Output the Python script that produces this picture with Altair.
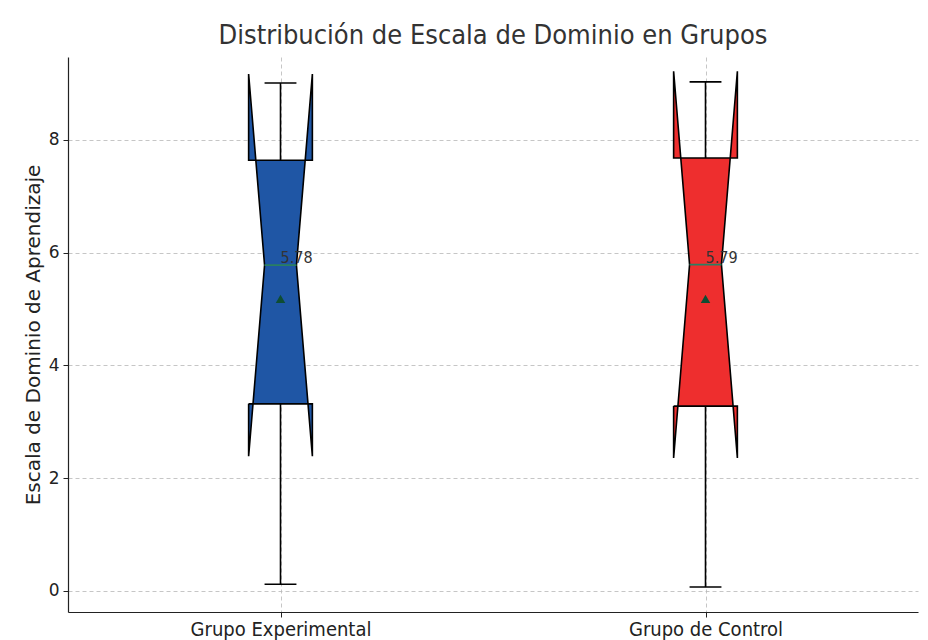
import altair as alt
import pandas as pd

# ---- data ----
groups = ["Grupo Experimental", "Grupo de Control"]
positions = [1, 2]
q1 = [3.32, 3.28]
median = [5.78, 5.79]
q3 = [7.64, 7.68]
whisk_lo = [0.12, 0.07]
whisk_hi = [9.01, 9.03]
notch_lo = [2.39, 2.36]
notch_hi = [9.17, 9.22]
means = [5.18, 5.18]
fills = ["#1f56a5", "#ee2e2e"]

HW = 0.075      # half box width (x units)
WAIST = 0.0375  # half width at the notch waist
CAP = 0.0375    # half cap width

def xl(i, y):
    c = positions[i]
    if y >= median[i]:
        return c - HW + (HW - WAIST) * (notch_hi[i] - y) / (notch_hi[i] - median[i])
    return c - HW + (HW - WAIST) * (y - notch_lo[i]) / (median[i] - notch_lo[i])

def xr(i, y):
    return 2 * positions[i] - xl(i, y)

# filled pieces of the notched box
area_rows = []
for i, g in enumerate(groups):
    c = positions[i]
    pieces = {
        "mid": [(q1[i], xl(i, q1[i]), xr(i, q1[i])), (median[i], c - WAIST, c + WAIST), (q3[i], xl(i, q3[i]), xr(i, q3[i]))],
        "tl": [(q3[i], c - HW, xl(i, q3[i])), (notch_hi[i], c - HW, c - HW)],
        "tr": [(q3[i], xr(i, q3[i]), c + HW), (notch_hi[i], c + HW, c + HW)],
        "bl": [(notch_lo[i], c - HW, c - HW), (q1[i], c - HW, xl(i, q1[i]))],
        "br": [(notch_lo[i], c + HW, c + HW), (q1[i], xr(i, q1[i]), c + HW)],
    }
    for k, pts in pieces.items():
        for (y, a, b) in pts:
            area_rows.append({"piece": f"{g}-{k}", "y": y, "x": a, "x2": b, "color": fills[i]})
areas = pd.DataFrame(area_rows)

# outline polygon
outline_rows = []
for i, g in enumerate(groups):
    c = positions[i]
    pts = [(c - HW, q1[i]), (c - HW, notch_lo[i]), (c - WAIST, median[i]), (c - HW, notch_hi[i]),
           (c - HW, q3[i]), (c + HW, q3[i]), (c + HW, notch_hi[i]), (c + WAIST, median[i]),
           (c + HW, notch_lo[i]), (c + HW, q1[i]), (c - HW, q1[i])]
    for k, (x, y) in enumerate(pts):
        outline_rows.append({"g": g, "o": k, "x": x, "y": y})
outline = pd.DataFrame(outline_rows)

whiskers = pd.DataFrame({
    "x": positions + positions,
    "y": q3 + q1,
    "y2": whisk_hi + whisk_lo,
})
caps = pd.DataFrame({
    "x": [p - CAP for p in positions] * 2,
    "x2": [p + CAP for p in positions] * 2,
    "y": whisk_hi + whisk_lo,
})
meds = pd.DataFrame({
    "x": [p - WAIST for p in positions],
    "x2": [p + WAIST for p in positions],
    "xc": positions,
    "y": median,
    "label": [f"{m:.2f}" for m in median],
})
mean_df = pd.DataFrame({"x": positions, "y": means})

xscale = alt.Scale(domain=[0.5, 2.5], nice=False, zero=False)
yscale = alt.Scale(domain=[-0.3725, 9.472], nice=False, zero=False)

cond = "DejaVu Sans Condensed, Liberation Sans Narrow, sans-serif"
label_expr = "datum.value == 1 ? 'Grupo Experimental' : (datum.value == 2 ? 'Grupo de Control' : '')"

xaxis = alt.Axis(values=[1, 2], labelExpr=label_expr, title=None, grid=True,
                 gridDash=[4, 3], gridColor="#b8b8b8", gridWidth=0.8,
                 labelFont=cond, labelFontSize=20, labelColor="#222", labelPadding=2,
                 labelLimit=0,
                 domainColor="#222", domainWidth=1.2, tickColor="#222", tickSize=5)
yaxis = alt.Axis(values=[0, 2, 4, 6, 8], format="d", title="Escala de Dominio de Aprendizaje",
                 grid=True, gridDash=[4, 3], gridColor="#b8b8b8", gridWidth=0.8,
                 labelFont="DejaVu Sans", labelFontSize=17, labelColor="#222", labelPadding=4,
                 titleFont="DejaVu Sans", titleFontSize=20, titleFontWeight="normal",
                 titleColor="#222", titlePadding=5,
                 domainColor="#222", domainWidth=1.2, tickColor="#222", tickSize=5)

area_layer = alt.Chart(areas).mark_area(orient="horizontal", opacity=1).encode(
    y=alt.Y("y:Q", scale=yscale, axis=yaxis, stack=None),
    x=alt.X("x:Q", scale=xscale, axis=xaxis, stack=None),
    x2="x2:Q",
    detail="piece:N",
    color=alt.Color("color:N", scale=None),
)

outline_layer = alt.Chart(outline).mark_line(color="black", strokeWidth=1.6, strokeJoin="miter").encode(
    x=alt.X("x:Q", scale=xscale),
    y=alt.Y("y:Q", scale=yscale),
    detail="g:N",
    order="o:Q",
)

whisk_layer = alt.Chart(whiskers).mark_rule(color="black", strokeWidth=1.6).encode(
    x=alt.X("x:Q", scale=xscale), y=alt.Y("y:Q", scale=yscale), y2="y2:Q"
)
cap_layer = alt.Chart(caps).mark_rule(color="black", strokeWidth=1.6).encode(
    x=alt.X("x:Q", scale=xscale), x2="x2:Q", y=alt.Y("y:Q", scale=yscale)
)
med_layer = alt.Chart(meds).mark_rule(color="#2a7f62", strokeWidth=1.8).encode(
    x=alt.X("x:Q", scale=xscale), x2="x2:Q", y=alt.Y("y:Q", scale=yscale)
)
mean_layer = alt.Chart(mean_df).mark_point(shape="triangle-up", filled=True, size=90,
                                           color="#0e4d33", opacity=1).encode(
    x=alt.X("x:Q", scale=xscale), y=alt.Y("y:Q", scale=yscale)
)
text_layer = alt.Chart(meds).mark_text(align="left", baseline="alphabetic", dy=-2,
                                       font=cond, fontSize=16, color="#333").encode(
    x=alt.X("xc:Q", scale=xscale), y=alt.Y("y:Q", scale=yscale), text="label:N"
)

chart = alt.layer(area_layer, outline_layer, whisk_layer, cap_layer, med_layer,
                  mean_layer, text_layer).properties(
    width=850, height=555,
    background="white",
    title=alt.Title("Distribución de Escala de Dominio en Grupos", font=cond,
                    fontSize=27, fontWeight="normal", color="#333", offset=7, anchor="middle"),
    autosize=alt.AutoSizeParams(type="none"),
    padding={"left": 60, "top": 49, "right": 2, "bottom": 28},
).configure_view(stroke=None)

chart.save("out.html", embed_options={"renderer": "svg", "actions": False})
